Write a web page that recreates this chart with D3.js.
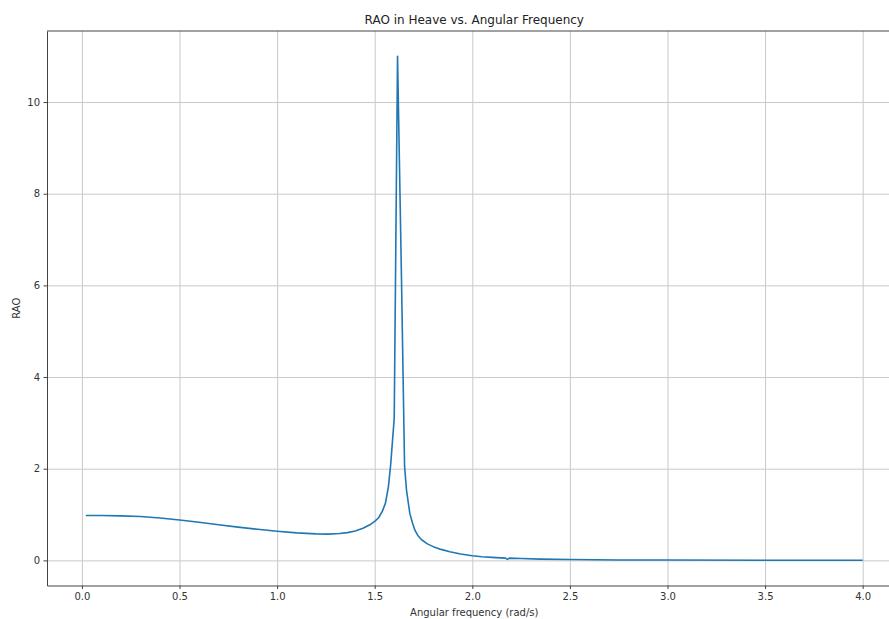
<!DOCTYPE html>
<html>
<head>
<meta charset="utf-8">
<script src="https://cdn.jsdelivr.net/npm/d3@7"></script>
<style>
  html, body { margin: 0; padding: 0; background: #fff; }
  svg { display: block; font-family: "DejaVu Sans", sans-serif; }
</style>
</head>
<body>
<svg id="chart" width="889" height="619"></svg>
<script>
// Heave RAO against wave angular frequency
const frequency = [
  0.02, 0.10, 0.20, 0.30, 0.40, 0.50, 0.60, 0.70, 0.80, 0.90,
  1.00, 1.10, 1.20, 1.26, 1.32, 1.36, 1.40, 1.44, 1.48, 1.50,
  1.52, 1.54, 1.555, 1.57, 1.582, 1.600, 1.617, 1.637, 1.653, 1.663,
  1.680, 1.694, 1.706, 1.720, 1.740, 1.770, 1.800, 1.840, 1.885, 1.940,
  2.000, 2.050, 2.100, 2.170, 2.180, 2.190, 2.250, 2.350, 2.500, 2.750,
  3.000, 3.500, 4.000
];
const rao = [
  0.980, 0.978, 0.972, 0.958, 0.925, 0.880, 0.832, 0.778, 0.725, 0.678,
  0.635, 0.600, 0.578, 0.573, 0.585, 0.605, 0.640, 0.700, 0.790, 0.850,
  0.930, 1.080, 1.250, 1.600, 2.100, 3.100, 11.000, 6.200, 2.050, 1.530,
  1.020, 0.810, 0.660, 0.550, 0.450, 0.360, 0.300, 0.240, 0.190, 0.140,
  0.100, 0.080, 0.065, 0.050, 0.022, 0.050, 0.040, 0.028, 0.018, 0.010,
  0.007, 0.004, 0.002
];
const xTicks = [0.0, 0.5, 1.0, 1.5, 2.0, 2.5, 3.0, 3.5, 4.0];
const yTicks = [0, 2, 4, 6, 8, 10];

const titleText = "RAO in Heave vs. Angular Frequency";
const xLabel = "Angular frequency (rad/s)";
const yLabel = "RAO";

const svg = d3.select("#chart");
const plotLeft = 47, plotRight = 901.5, plotTop = 31, plotBottom = 585.5;

// 5% padding around the data extent on both axes
const xExt = d3.extent(frequency), yExt = d3.extent(rao);
const xPad = (xExt[1] - xExt[0]) * 0.05, yPad = (yExt[1] - yExt[0]) * 0.05;
const x = d3.scaleLinear().domain([xExt[0] - xPad, xExt[1] + xPad]).range([plotLeft, plotRight]);
const y = d3.scaleLinear().domain([yExt[0] - yPad, yExt[1] + yPad]).range([plotBottom, plotTop]);

// grid
const gridColor = "#c9c9c9";
svg.append("g")
  .attr("transform", `translate(0,${plotBottom})`)
  .call(d3.axisBottom(x).tickValues(xTicks).tickSize(-(plotBottom - plotTop)).tickSizeOuter(0).tickFormat(""))
  .call(g => g.select(".domain").remove())
  .call(g => g.selectAll("line").attr("stroke", gridColor).attr("stroke-width", 1));
svg.append("g")
  .attr("transform", `translate(${plotLeft},0)`)
  .call(d3.axisLeft(y).tickValues(yTicks).tickSize(-(plotRight - plotLeft)).tickSizeOuter(0).tickFormat(""))
  .call(g => g.select(".domain").remove())
  .call(g => g.selectAll("line").attr("stroke", gridColor).attr("stroke-width", 1));

// the RAO curve
const pts = frequency.map((f, i) => [f, rao[i]]);
svg.append("path")
  .datum(pts)
  .attr("fill", "none")
  .attr("stroke", "#1f77b4")
  .attr("stroke-width", 1.6)
  .attr("stroke-linejoin", "round")
  .attr("d", d3.line().x(d => x(d[0])).y(d => y(d[1])));

// frame
const spine = "#444";
svg.append("line").attr("x1", plotLeft).attr("x2", plotRight).attr("y1", plotTop).attr("y2", plotTop)
  .attr("stroke", spine).attr("stroke-width", 1);
svg.append("line").attr("x1", plotRight).attr("x2", plotRight).attr("y1", plotTop).attr("y2", plotBottom)
  .attr("stroke", spine).attr("stroke-width", 1);

// axes with ticks
const xAxis = svg.append("g")
  .attr("transform", `translate(0,${plotBottom})`)
  .call(d3.axisBottom(x).tickValues(xTicks).tickSize(3.5).tickSizeOuter(0).tickPadding(3.5).tickFormat(d3.format(".1f")));
const yAxis = svg.append("g")
  .attr("transform", `translate(${plotLeft},0)`)
  .call(d3.axisLeft(y).tickValues(yTicks).tickSize(3.5).tickSizeOuter(0).tickPadding(3.5).tickFormat(d3.format("d")));
[xAxis, yAxis].forEach(g => {
  g.select(".domain").attr("stroke", spine).attr("stroke-width", 1);
  g.selectAll(".tick line").attr("stroke", spine).attr("stroke-width", 1);
  g.selectAll(".tick text").attr("fill", "#333").attr("font-size", 10)
    .attr("font-family", "DejaVu Sans, sans-serif");
});

// labels
svg.append("text")
  .attr("x", (plotLeft + plotRight) / 2).attr("y", 24)
  .attr("text-anchor", "middle").attr("font-size", 12).attr("fill", "#222")
  .text(titleText);
svg.append("text")
  .attr("x", (plotLeft + plotRight) / 2).attr("y", 616)
  .attr("text-anchor", "middle").attr("font-size", 10).attr("fill", "#333")
  .text(xLabel);
svg.append("text")
  .attr("transform", `translate(20,${(plotTop + plotBottom) / 2}) rotate(-90)`)
  .attr("text-anchor", "middle").attr("font-size", 10).attr("fill", "#333")
  .text(yLabel);
</script>
</body>
</html>
